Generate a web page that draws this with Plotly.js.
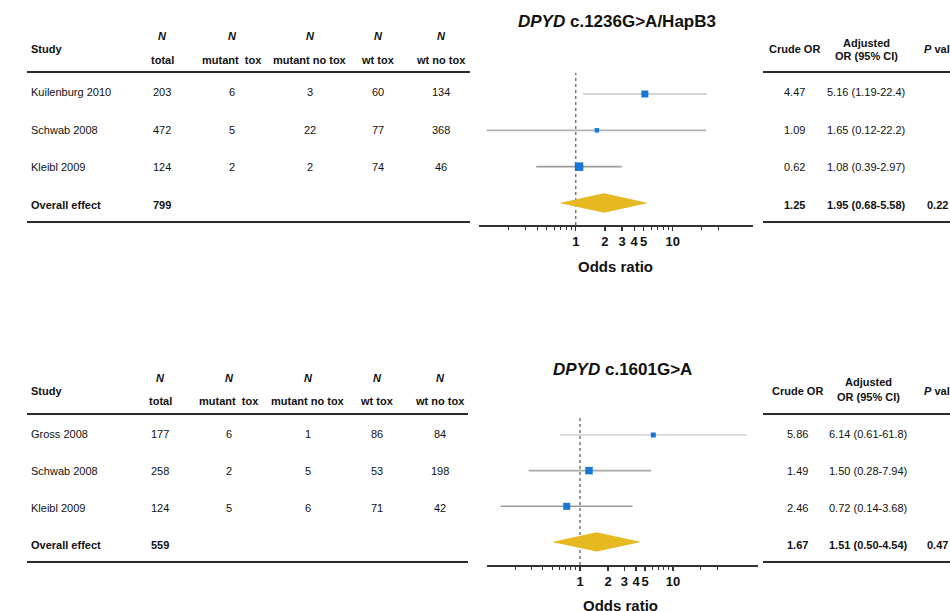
<!DOCTYPE html>
<html>
<head>
<meta charset="utf-8">
<script src="https://cdn.plot.ly/plotly-3.0.1.min.js"></script>
<style>html,body{margin:0;padding:0;background:#fff;}#chart{width:950px;height:611px;}</style>
</head>
<body>
<div id="chart"></div>
<script>
// ---------- DATA: panel 1 (DPYD c.1236G>A/HapB3) ----------
const title1 = ['DPYD', 'c.1236G>A/HapB3'];
const studies1 = ['Kuilenburg 2010', 'Schwab 2008', 'Kleibl 2009'];
const total1 = [203, 472, 124];
const mutTox1 = [6, 5, 2];
const mutNoTox1 = [3, 22, 2];
const wtTox1 = [60, 77, 74];
const wtNoTox1 = [134, 368, 46];
const overallTotal1 = 799;
const crude1 = [4.47, 1.09, 0.62];
const adjOR1 = [5.16, 1.65, 1.08];
const adjLo1 = [1.19, 0.12, 0.39];
const adjHi1 = [22.4, 22.2, 2.97];
const overallCrude1 = 1.25;
const overallOR1 = [1.95, 0.68, 5.58];
const pValue1 = '0.22';
// plotted estimates
const plotOR1 = [5.16, 1.65, 1.08];
const plotLo1 = [1.19, 0.12, 0.39];
const plotHi1 = [22.4, 22.2, 2.97];
const weight1 = [7, 4.5, 8.5];

// ---------- DATA: panel 2 (DPYD c.1601G>A) ----------
const title2 = ['DPYD', 'c.1601G>A'];
const studies2 = ['Gross 2008', 'Schwab 2008', 'Kleibl 2009'];
const total2 = [177, 258, 124];
const mutTox2 = [6, 2, 5];
const mutNoTox2 = [1, 5, 6];
const wtTox2 = [86, 53, 71];
const wtNoTox2 = [84, 198, 42];
const overallTotal2 = 559;
const crude2 = [5.86, 1.49, 2.46];
const adjOR2 = [6.14, 1.50, 0.72];
const adjLo2 = [0.61, 0.28, 0.14];
const adjHi2 = [61.8, 7.94, 3.68];
const overallCrude2 = 1.67;
const overallOR2 = [1.51, 0.50, 4.54];
const pValue2 = '0.47';
// plotted estimates
const plotOR2 = [6.14, 1.25, 0.72];
const plotLo2 = [0.61, 0.28, 0.14];
const plotHi2 = [61.8, 5.8, 3.68];
const weight2 = [5, 7.5, 7];

const headerTop = ['N', 'N', 'N', 'N', 'N'];
const headerSub = ['total', 'mutant  tox', 'mutant no tox', 'wt tox', 'wt no tox'];
const majorTicks = [1, 2, 3, 4, 5, 10];
const minorTicks = [0.2, 0.3, 0.4, 0.5, 0.6, 0.7, 0.8, 0.9, 6, 7, 8, 9, 20, 30];

// ---------- helpers ----------
const W = 950, H = 611;
const FONT = 'Liberation Sans, Arial, sans-serif';
const px = x => x / W;
const py = y => 1 - y / H;
const fmt = v => v >= 10 ? v.toFixed(1) : v.toFixed(2);

const annotations = [];
const shapes = [];
function txt(x, y, text, opts) {
  annotations.push(Object.assign({
    xref: 'paper', yref: 'paper', x: px(x), y: py(y), text: text,
    showarrow: false, xanchor: 'center', yanchor: 'middle',
    font: {family: FONT, size: 11, color: '#111'}
  }, opts || {}));
}
function hline(x0, x1, y) {
  shapes.push({type: 'line', xref: 'paper', yref: 'paper', x0: px(x0), x1: px(x1),
    y0: py(y), y1: py(y), line: {color: '#2a2a2a', width: 2}});
}

function buildPanel(cfg) {
  const d = cfg.data;
  // left table
  txt(29, cfg.studyY, '<b>Study</b>', {xanchor: 'left'});
  cfg.colX.forEach((cx, j) => {
    txt(cx, cfg.nY, '<b><i>' + headerTop[j] + '</i></b>');
    txt(cx, cfg.subY, '<b>' + headerSub[j] + '</b>');
  });
  hline(27, cfg.leftLineEnd, cfg.line1);
  hline(27, cfg.leftLineEnd, cfg.line2);
  const cols = [d.total, d.mutTox, d.mutNoTox, d.wtTox, d.wtNoTox];
  d.studies.forEach((s, i) => {
    txt(29, cfg.rowY[i], s, {xanchor: 'left'});
    cols.forEach((c, j) => txt(cfg.colX[j], cfg.rowY[i], String(c[i])));
  });
  txt(29, cfg.rowY[3], '<b>Overall effect</b>', {xanchor: 'left'});
  txt(cfg.colX[0], cfg.rowY[3], '<b>' + d.overallTotal + '</b>');

  // right table
  txt(cfg.crudeX, cfg.studyY, '<b>Crude OR</b>');
  txt(cfg.adjX, cfg.adjY1, '<b>Adjusted</b>');
  txt(cfg.adjX, cfg.adjY2, '<b>OR (95% CI)</b>');
  txt(cfg.pX, cfg.studyY, '<b><i>P</i> value</b>', {xanchor: 'left'});
  hline(763, 950, cfg.line1);
  hline(763, 950, cfg.line2);
  d.studies.forEach((s, i) => {
    txt(cfg.crudeX, cfg.rowY[i], d.crude[i].toFixed(2));
    txt(cfg.adjX, cfg.rowY[i], fmt(d.adjOR[i]) + ' (' + fmt(d.adjLo[i]) + '-' + fmt(d.adjHi[i]) + ')');
  });
  txt(cfg.crudeX, cfg.rowY[3], '<b>' + d.overallCrude.toFixed(2) + '</b>');
  txt(cfg.adjX, cfg.rowY[3], '<b>' + fmt(d.overallOR[0]) + ' (' + fmt(d.overallOR[1]) + '-' + fmt(d.overallOR[2]) + ')</b>');
  txt(cfg.pValX, cfg.rowY[3], '<b>' + d.pValue + '</b>', {xanchor: 'right'});

  // title
  txt(cfg.titleX, cfg.titleY, '<b><i>' + d.title[0] + '</i> ' + d.title[1] + '</b>', {font: {family: FONT, size: 17, color: '#111'}});
  // axis title
  txt(cfg.titleX - 2, cfg.axTitleY, '<b>Odds ratio</b>', {font: {family: FONT, size: 15, color: '#111'}});
}

const p1 = {
  data: {title: title1, studies: studies1, total: total1, mutTox: mutTox1, mutNoTox: mutNoTox1,
    wtTox: wtTox1, wtNoTox: wtNoTox1, overallTotal: overallTotal1, crude: crude1,
    adjOR: adjOR1, adjLo: adjLo1, adjHi: adjHi1, overallCrude: overallCrude1,
    overallOR: overallOR1, pValue: pValue1},
  colX: [162, 232, 310, 378, 441], nY: 36, subY: 60, studyY: 49, line1: 72, line2: 222,
  leftLineEnd: 470, rowY: [92, 130, 167, 205],
  crudeX: 794, adjX: 866, adjY1: 43, adjY2: 56, pX: 922, pValX: 950,
  titleX: 617, titleY: 21, axTitleY: 266
};
const p2 = {
  data: {title: title2, studies: studies2, total: total2, mutTox: mutTox2, mutNoTox: mutNoTox2,
    wtTox: wtTox2, wtNoTox: wtNoTox2, overallTotal: overallTotal2, crude: crude2,
    adjOR: adjOR2, adjLo: adjLo2, adjHi: adjHi2, overallCrude: overallCrude2,
    overallOR: overallOR2, pValue: pValue2},
  colX: [160, 229, 308, 377, 440], nY: 378, subY: 401, studyY: 391, line1: 414, line2: 562,
  leftLineEnd: 468, rowY: [434, 471, 508, 545],
  crudeX: 797, adjX: 868, adjY1: 382, adjY2: 397, pX: 922, pValX: 950,
  titleX: 622, titleY: 369, axTitleY: 605
};
buildPanel(p1);
buildPanel(p2);

// ---------- forest traces ----------
const traces = [];
function forest(ax, yax, or, lo, hi, weights, ciColors, overall) {
  or.forEach((v, i) => {
    traces.push({
      type: 'scatter', mode: 'markers', xaxis: ax, yaxis: yax,
      x: [v], y: [i],
      marker: {symbol: 'square', size: weights[i], color: '#1677d8', line: {width: 0}},
      error_x: {type: 'data', symmetric: false,
        array: [hi[i] - v], arrayminus: [v - lo[i]],
        width: 0, thickness: 1.6, color: ciColors[i]},
      hoverinfo: 'skip', showlegend: false
    });
  });
  const yd = or.length, h = 0.27;
  traces.push({
    type: 'scatter', mode: 'lines', xaxis: ax, yaxis: yax,
    x: [overall[1], overall[0], overall[2], overall[0], overall[1]],
    y: [yd, yd - h, yd, yd + h, yd],
    fill: 'toself', fillcolor: '#e6b921', line: {width: 0, color: '#e6b921'},
    hoverinfo: 'skip', showlegend: false
  });
}
forest('x', 'y', plotOR1, plotLo1, plotHi1, weight1, ['#c6c6c6', '#b2b2b2', '#9c9c9c'], overallOR1);
forest('x2', 'y2', plotOR2, plotLo2, plotHi2, weight2, ['#d0d0d0', '#a8a8a8', '#9a9a9a'], overallOR2);

function xaxisDef(domain, range, anchor) {
  return {
    type: 'log', domain: domain, range: range, anchor: anchor,
    showline: true, linecolor: '#333', linewidth: 1.5,
    showgrid: false, zeroline: false,
    tickmode: 'array', tickvals: majorTicks, ticktext: majorTicks.map(v => '<b>' + v + '</b>'),
    tickangle: 0, automargin: false,
    ticks: 'outside', ticklen: 4, tickwidth: 1.2, tickcolor: '#333',
    tickfont: {family: FONT, size: 13, color: '#111'},
    minor: {tickmode: 'array', tickvals: minorTicks, ticks: 'outside', ticklen: 3, tickwidth: 1, tickcolor: '#333'},
    fixedrange: true
  };
}
function yaxisDef(domain, range, anchor) {
  return {domain: domain, range: range, anchor: anchor, visible: false, showgrid: false, zeroline: false, fixedrange: true};
}

const layout = {
  width: W, height: H,
  margin: {l: 0, r: 0, t: 0, b: 0},
  paper_bgcolor: '#fff', plot_bgcolor: 'rgba(0,0,0,0)',
  showlegend: false,
  xaxis: xaxisDef([479 / W, 753 / W], [-1, 1.83], 'y'),
  yaxis: yaxisDef([1 - 225 / H, 1 - 73 / H], [3.606, -0.578], 'x'),
  xaxis2: xaxisDef([487 / W, 758 / W], [-1, 1.914], 'y2'),
  yaxis2: yaxisDef([1 - 565 / H, 1 - 415 / H], [3.645, -0.56], 'x2'),
  annotations: annotations,
  shapes: shapes.concat([
    {type: 'line', xref: 'x', yref: 'y domain', x0: 1, x1: 1, y0: 0, y1: 1, line: {color: '#333', width: 1, dash: 'dot'}, layer: 'below'},
    {type: 'line', xref: 'x2', yref: 'y2 domain', x0: 1, x1: 1, y0: 0, y1: 1, line: {color: '#333', width: 1, dash: 'dot'}, layer: 'below'}
  ])
};

Plotly.newPlot('chart', traces, layout, {displayModeBar: false, staticPlot: true});
</script>
</body>
</html>
